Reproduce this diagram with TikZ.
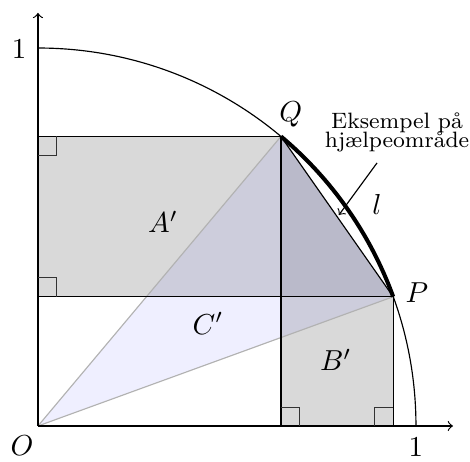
\documentclass[tikz,border=0pt]{standalone}
\usetikzlibrary{calc}
\definecolor{regiongray}{RGB}{217,217,217}
\definecolor{darkgray2}{RGB}{196,196,196}
\definecolor{triblue}{RGB}{102,102,255}
\newcommand\mynotefont{\fontsize{7.7}{6.4}\selectfont\lineskiplimit=-6pt\relax}
\begin{document}
\begin{tikzpicture}[x=4.6cm,y=4.6cm,
  region/.style={fill=regiongray},
  helper/.style={fill=darkgray2},
  tri/.style={fill=triblue,fill opacity=0.1},
  ray/.style={draw=black!30,line width=0.4pt},
  rmark/.style={draw=black!80,line width=0.4pt},
  lbl/.style={inner sep=0pt},
  notefont/.style={font=\mynotefont}]
\useasboundingbox (-0.1005,-0.0952) rectangle (1.143,1.127);
\coordinate (O) at (0,0);
\coordinate (Q) at (50:1);
\coordinate (P) at (20:1);
\coordinate (C) at (Q |- P);
\coordinate (Qx) at (Q |- O);
\coordinate (Px) at (P |- O);
\coordinate (Qy) at (O |- Q);
\coordinate (Py) at (O |- P);
\coordinate (Y1) at (0,1);
\coordinate (X1) at (1,0);
\coordinate (Ytop) at (0,1.093);
\coordinate (Xend) at (1.098,0);
% regions
\fill[region] (Py) rectangle (Q);
\fill[region] (Qx) rectangle (P);
\fill[helper] (Q) -- (C) -- (P) -- cycle;
\fill[tri] (O) -- (Q) -- (P) -- cycle;
% rays
\draw[ray] (O) -- (Q);
\draw[ray] (O) -- (P);
% rectangle borders
\draw (Py) rectangle (Q);
\draw (Qx) rectangle (P);
% chord
\draw (Q) -- (P);
% unit circle arc
\draw (Y1) arc[start angle=90,end angle=0,radius=1];
% thick arc
\draw[line width=1.4pt] (Q) arc[start angle=50,end angle=20,radius=1];
% axes
\draw[->] (O) -- (Ytop);
\draw[->] (O) -- (Xend);
% right-angle marks
\draw[rmark] ($(Qy)+(0,-0.05)$) -| ($(Qy)+(0.05,0)$);
\draw[rmark] ($(Py)+(0,0.05)$) -| ($(Py)+(0.05,0)$);
\draw[rmark] ($(Qx)+(0,0.05)$) -| ($(Qx)+(0.05,0)$);
\draw[rmark] ($(Px)+(0,0.05)$) -| ($(Px)+(-0.05,0)$);
% labels
\node[lbl] (lY1) at (-0.050,0.997) {$1$};
\node[lbl] (lX1) at (1.0,-0.056) {$1$};
\node[lbl] (lO) at (-0.042,-0.053) {$O$};
\node[lbl] (lQ) at ($(Q)+(0.026,0.059)$) {$Q$};
\node[lbl] (lP) at ($(P)+(0.063,0.010)$) {$P$};
\node[lbl] (ll) at (0.897,0.585) {$l$};
\node[lbl] (lA) at (0.331,0.540) {$A'$};
\node[lbl] (lC) at (0.450,0.272) {$C'$};
\node[lbl] (lB) at (0.788,0.175) {$B'$};
\node[lbl,align=center,notefont] (note) at (0.950,0.776) {Eksempel på\\hjælpeområde};
\coordinate (as) at (0.897,0.696);
\coordinate (ae) at (0.796,0.558);
\draw[->] (as) -- (ae);
\end{tikzpicture}
\end{document}
